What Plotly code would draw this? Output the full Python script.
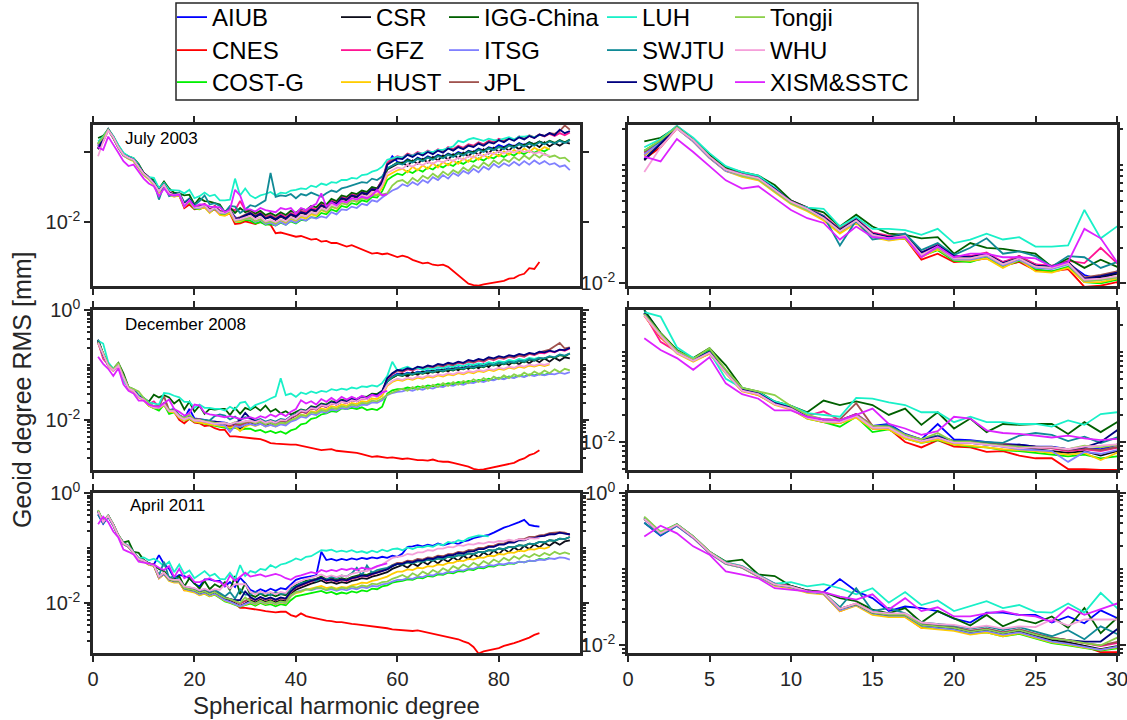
import plotly.graph_objects as go

W, H = 1127, 720

CENTERS = ["AIUB", "CNES", "COST-G", "CSR", "GFZ", "HUST", "IGG-China", "ITSG",
           "JPL", "LUH", "SWJTU", "SWPU", "Tongji", "WHU", "XISM&SSTC"]
COLORS = ["#0000FF", "#FF0000", "#00F000", "#0D0D1A", "#FF1493", "#FFCC00", "#006000", "#8080FF",
          "#A0524E", "#19F0C8", "#108A96", "#00007F", "#8CD04A", "#F5A0DA", "#DD22FF"]
EPOCHS = ["July 2003", "December 2008", "April 2011"]

# Values read on the log axis: log10 of geoid degree RMS [mm], degree 1, 2, 3, ...
# ---------------- July 2003 ----------------
AIUB_2003 = [-0.92,-0.81,-0.68,-0.78,-0.92,-1.03,-1.08,-1.10,-1.20,-1.30,
 -1.36,-1.44,-1.56,-1.46,-1.58,-1.61,-1.60,-1.76,-1.69,-1.78,
 -1.77,-1.76,-1.82,-1.79,-1.84,-1.87,-1.83,-1.93,-1.97,-1.90,
 -1.86,-1.90,-1.87,-1.93,-1.90,-1.95,-1.89,-1.94,-1.88,-1.91,
 -1.85,-1.86,-1.80,-1.83,-1.75,-1.77,-1.70,-1.73,-1.64,-1.67,
 -1.61,-1.62,-1.56,-1.59,-1.51,-1.53,-1.40,-1.18,-1.06,-1.14,
 -1.16,-1.10,-1.14,-1.08,-1.11,-1.06,-1.09,-1.04,-1.07,-1.02,
 -1.05,-1.00,-1.03,-0.98,-1.00,-0.95,-0.98,-0.93,-0.95,-0.90,
 -0.93,-0.89,-0.92,-0.87,-0.90,-0.86,-0.89,-0.85,-0.88]
CNES_2003 = [-0.95,-0.85,-0.69,-0.80,-0.94,-1.05,-1.09,-1.12,-1.22,-1.32,
 -1.38,-1.45,-1.56,-1.48,-1.60,-1.63,-1.62,-1.80,-1.75,-1.82,
 -1.81,-1.79,-1.85,-1.82,-1.89,-1.90,-1.88,-2.03,-2.02,-1.99,
 -2.01,-2.03,-2.00,-2.02,-2.04,-2.16,-2.15,-2.17,-2.19,-2.21,
 -2.20,-2.23,-2.25,-2.24,-2.28,-2.27,-2.30,-2.30,-2.33,-2.35,
 -2.33,-2.36,-2.40,-2.42,-2.45,-2.44,-2.46,-2.45,-2.48,-2.50,
 -2.48,-2.50,-2.54,-2.57,-2.59,-2.58,-2.61,-2.62,-2.61,-2.64,
 -2.70,-2.76,-2.82,-2.88,-2.90,-2.91,-2.89,-2.88,-2.87,-2.85,
 -2.84,-2.81,-2.80,-2.76,-2.74,-2.66,-2.67,-2.57]
COSTG_2003 = [-0.88,-0.79,-0.68,-0.79,-0.93,-1.04,-1.09,-1.12,-1.22,-1.32,
 -1.38,-1.46,-1.57,-1.48,-1.60,-1.63,-1.62,-1.77,-1.72,-1.81,
 -1.82,-1.78,-1.86,-1.81,-1.88,-1.90,-1.86,-1.99,-2.00,-1.97,
 -1.98,-2.02,-2.00,-2.04,-2.03,-2.05,-2.01,-2.04,-1.99,-2.02,
 -1.97,-1.98,-1.93,-1.94,-1.87,-1.89,-1.82,-1.85,-1.77,-1.79,
 -1.73,-1.75,-1.69,-1.71,-1.64,-1.65,-1.56,-1.40,-1.35,-1.31,
 -1.33,-1.27,-1.30,-1.25,-1.28,-1.22,-1.25,-1.19,-1.22,-1.17,
 -1.20,-1.14,-1.17,-1.12,-1.14,-1.09,-1.12,-1.07,-1.09,-1.04,
 -1.07,-1.02,-1.05,-1.00,-1.03,-0.98,-1.01,-0.97,-0.99,-0.95]
CSR_2003 = [-0.96,-0.82,-0.68,-0.79,-0.93,-1.04,-1.08,-1.11,-1.21,-1.31,
 -1.37,-1.44,-1.55,-1.47,-1.58,-1.61,-1.60,-1.76,-1.68,-1.79,
 -1.79,-1.75,-1.84,-1.77,-1.85,-1.86,-1.83,-1.96,-1.95,-1.92,
 -1.88,-1.93,-1.89,-1.95,-1.93,-1.97,-1.92,-1.96,-1.90,-1.93,
 -1.87,-1.89,-1.83,-1.85,-1.77,-1.80,-1.72,-1.75,-1.67,-1.69,
 -1.63,-1.65,-1.59,-1.61,-1.54,-1.55,-1.44,-1.25,-1.21,-1.17,
 -1.15,-1.20,-1.12,-1.17,-1.10,-1.15,-1.07,-1.12,-1.05,-1.11,
 -1.03,-1.09,-1.01,-1.06,-0.99,-1.04,-0.96,-1.02,-0.94,-1.00,
 -0.93,-0.98,-0.91,-0.96,-0.89,-0.94,-0.88,-0.93,-0.86,-0.92,
 -0.87,-0.91,-0.86,-0.88]
GFZ_2003 = [-0.90,-0.80,-0.67,-0.78,-0.92,-1.03,-1.07,-1.10,-1.20,-1.30,
 -1.36,-1.43,-1.54,-1.45,-1.57,-1.60,-1.58,-1.74,-1.67,-1.77,
 -1.77,-1.74,-1.82,-1.77,-1.84,-1.85,-1.81,-1.83,-1.70,-1.83,
 -1.86,-1.90,-1.86,-1.92,-1.90,-1.94,-1.89,-1.93,-1.87,-1.90,
 -1.84,-1.86,-1.80,-1.82,-1.74,-1.77,-1.69,-1.72,-1.64,-1.66,
 -1.60,-1.62,-1.56,-1.58,-1.51,-1.52,-1.40,-1.15,-1.10,-1.06,
 -1.08,-1.02,-1.05,-1.00,-1.03,-0.98,-1.01,-0.96,-0.99,-0.93,
 -0.96,-0.91,-0.94,-0.89,-0.91,-0.86,-0.89,-0.84,-0.86,-0.81,
 -0.84,-0.80,-0.83,-0.78,-0.81,-0.77,-0.80,-0.75,-0.78,-0.74,
 -0.77,-0.73,-0.76,-0.72]
HUST_2003 = [-0.92,-0.81,-0.69,-0.80,-0.94,-1.05,-1.10,-1.13,-1.23,-1.33,
 -1.39,-1.47,-1.58,-1.49,-1.61,-1.64,-1.62,-1.78,-1.71,-1.80,
 -1.81,-1.79,-1.87,-1.80,-1.90,-1.91,-1.87,-1.99,-1.99,-1.96,
 -1.95,-1.99,-1.96,-2.02,-2.00,-2.03,-1.99,-2.02,-1.96,-1.99,
 -1.93,-1.95,-1.89,-1.91,-1.83,-1.86,-1.78,-1.81,-1.73,-1.75,
 -1.69,-1.71,-1.65,-1.67,-1.60,-1.61,-1.51,-1.34,-1.30,-1.26,
 -1.24,-1.29,-1.21,-1.26,-1.19,-1.24,-1.16,-1.22,-1.14,-1.19,
 -1.12,-1.17,-1.09,-1.14,-1.06,-1.11,-1.04,-1.09,-1.01,-1.06,
 -0.99,-1.04,-0.97,-1.02,-0.95,-1.00,-0.94,-0.98,-0.93,-0.96]
IGG_2003 = [-0.80,-0.77,-0.68,-0.78,-0.91,-1.02,-1.06,-1.09,-1.17,-1.30,
 -1.36,-1.40,-1.52,-1.42,-1.52,-1.58,-1.59,-1.62,-1.61,-1.75,
 -1.66,-1.70,-1.71,-1.73,-1.75,-1.86,-1.79,-1.87,-1.80,-1.86,
 -1.83,-1.88,-1.84,-1.90,-1.87,-1.91,-1.86,-1.90,-1.84,-1.87,
 -1.81,-1.83,-1.77,-1.79,-1.72,-1.75,-1.67,-1.70,-1.62,-1.64,
 -1.58,-1.60,-1.55,-1.57,-1.50,-1.52,-1.42,-1.24,-1.20,-1.15,
 -1.17,-1.11,-1.14,-1.09,-1.12,-1.07,-1.10,-1.05,-1.08,-1.03,
 -1.06,-1.01,-1.04,-0.99,-1.01,-0.96,-0.99,-0.94,-0.97,-0.92,
 -0.95,-0.90,-0.93,-0.88,-0.91,-0.86,-0.89,-0.85,-0.88,-0.84,
 -0.87,-0.83,-0.86,-0.82]
ITSG_2003 = [-0.91,-0.81,-0.69,-0.80,-0.94,-1.05,-1.09,-1.12,-1.22,-1.32,
 -1.38,-1.45,-1.56,-1.48,-1.60,-1.63,-1.61,-1.77,-1.70,-1.80,
 -1.80,-1.77,-1.85,-1.80,-1.87,-1.88,-1.84,-1.98,-1.97,-1.95,
 -1.95,-2.00,-1.97,-2.03,-2.01,-2.05,-2.00,-2.04,-1.98,-2.01,
 -1.96,-1.98,-1.93,-1.95,-1.92,-1.94,-1.86,-1.89,-1.82,-1.83,
 -1.78,-1.80,-1.74,-1.76,-1.69,-1.71,-1.65,-1.60,-1.55,-1.52,
 -1.46,-1.49,-1.43,-1.47,-1.40,-1.44,-1.36,-1.40,-1.33,-1.38,
 -1.30,-1.34,-1.27,-1.31,-1.24,-1.29,-1.21,-1.25,-1.17,-1.22,
 -1.16,-1.20,-1.14,-1.19,-1.13,-1.18,-1.12,-1.17,-1.13,-1.18,
 -1.16,-1.21,-1.19,-1.26]
JPL_2003 = [-0.89,-0.79,-0.67,-0.79,-0.93,-1.04,-1.08,-1.11,-1.21,-1.31,
 -1.37,-1.44,-1.54,-1.46,-1.58,-1.61,-1.59,-1.75,-1.69,-1.78,
 -1.78,-1.76,-1.83,-1.78,-1.85,-1.86,-1.82,-1.95,-1.93,-1.90,
 -1.86,-1.91,-1.88,-1.94,-1.91,-1.95,-1.91,-1.95,-1.89,-1.92,
 -1.85,-1.88,-1.82,-1.84,-1.76,-1.79,-1.71,-1.74,-1.66,-1.68,
 -1.62,-1.64,-1.58,-1.60,-1.53,-1.54,-1.43,-1.17,-1.12,-1.07,
 -1.09,-1.03,-1.06,-1.01,-1.04,-0.99,-1.02,-0.97,-1.00,-0.94,
 -0.97,-0.92,-0.95,-0.90,-0.92,-0.87,-0.90,-0.85,-0.87,-0.82,
 -0.85,-0.80,-0.83,-0.78,-0.81,-0.76,-0.79,-0.75,-0.77,-0.73,
 -0.74,-0.70,-0.62,-0.68]
LUH_2003 = [-0.85,-0.78,-0.67,-0.77,-0.90,-1.01,-1.06,-1.09,-1.19,-1.32,
 -1.36,-1.37,-1.52,-1.44,-1.54,-1.54,-1.55,-1.59,-1.54,-1.66,
 -1.63,-1.58,-1.63,-1.61,-1.69,-1.69,-1.68,-1.38,-1.62,-1.52,
 -1.62,-1.66,-1.62,-1.60,-1.57,-1.62,-1.58,-1.59,-1.55,-1.54,
 -1.52,-1.53,-1.48,-1.50,-1.45,-1.47,-1.43,-1.44,-1.40,-1.40,
 -1.37,-1.38,-1.33,-1.32,-1.28,-1.26,-1.21,-1.11,-1.09,-1.07,
 -1.08,-1.04,-1.05,-1.02,-1.02,-0.99,-1.00,-0.97,-0.97,-0.95,
 -0.92,-0.84,-0.86,-0.82,-0.80,-0.82,-0.84,-0.81,-0.83,-0.83,
 -0.81,-0.79,-0.82,-0.78,-0.78,-0.77,-0.79,-0.76]
SWJTU_2003 = [-0.88,-0.80,-0.68,-0.79,-0.93,-1.04,-1.08,-1.11,-1.21,-1.31,
 -1.37,-1.43,-1.68,-1.47,-1.63,-1.61,-1.58,-1.72,-1.66,-1.76,
 -1.70,-1.62,-1.75,-1.73,-1.77,-1.86,-1.77,-1.78,-1.87,-1.82,
 -1.76,-1.78,-1.73,-1.69,-1.30,-1.64,-1.62,-1.63,-1.60,-1.66,
 -1.60,-1.62,-1.58,-1.61,-1.64,-1.59,-1.55,-1.57,-1.52,-1.50,
 -1.48,-1.46,-1.43,-1.44,-1.38,-1.40,-1.35,-1.23,-1.20,-1.16,
 -1.18,-1.13,-1.15,-1.10,-1.13,-1.08,-1.11,-1.06,-1.09,-1.04,
 -1.07,-1.02,-1.05,-1.00,-1.02,-0.97,-1.00,-0.95,-0.97,-0.93,
 -0.96,-0.91,-0.94,-0.89,-0.92,-0.88,-0.91,-0.86,-0.89,-0.85,
 -0.88,-0.84,-0.87,-0.83]
SWPU_2003 = [-0.95,-0.82,-0.68,-0.79,-0.93,-1.04,-1.08,-1.11,-1.20,-1.31,
 -1.37,-1.44,-1.55,-1.46,-1.58,-1.61,-1.60,-1.74,-1.68,-1.77,
 -1.78,-1.75,-1.83,-1.79,-1.85,-1.86,-1.82,-1.96,-1.94,-1.91,
 -1.87,-1.92,-1.88,-1.95,-1.92,-1.96,-1.91,-1.95,-1.89,-1.92,
 -1.86,-1.88,-1.82,-1.84,-1.76,-1.79,-1.71,-1.74,-1.66,-1.68,
 -1.62,-1.64,-1.58,-1.60,-1.53,-1.54,-1.43,-1.18,-1.13,-1.09,
 -1.10,-1.04,-1.07,-1.02,-1.05,-1.00,-1.03,-0.98,-1.01,-0.95,
 -0.98,-0.93,-0.96,-0.91,-0.93,-0.88,-0.91,-0.86,-0.88,-0.83,
 -0.86,-0.81,-0.84,-0.79,-0.82,-0.77,-0.80,-0.75,-0.77,-0.73,
 -0.76,-0.68,-0.73,-0.70]
TONGJI_2003 = [-0.88,-0.79,-0.68,-0.79,-0.93,-1.04,-1.09,-1.12,-1.22,-1.32,
 -1.38,-1.45,-1.56,-1.47,-1.59,-1.62,-1.60,-1.76,-1.70,-1.79,
 -1.79,-1.76,-1.84,-1.79,-1.86,-1.87,-1.83,-1.98,-1.97,-1.95,
 -1.94,-1.99,-1.96,-2.01,-1.99,-2.02,-1.97,-2.00,-1.94,-1.97,
 -1.91,-1.93,-1.87,-1.89,-1.82,-1.85,-1.78,-1.80,-1.73,-1.75,
 -1.69,-1.71,-1.66,-1.68,-1.62,-1.62,-1.60,-1.59,-1.48,-1.42,
 -1.40,-1.45,-1.37,-1.42,-1.34,-1.38,-1.31,-1.36,-1.28,-1.33,
 -1.26,-1.30,-1.22,-1.27,-1.19,-1.23,-1.15,-1.20,-1.12,-1.17,
 -1.10,-1.14,-1.07,-1.12,-1.05,-1.10,-1.03,-1.08,-1.02,-1.07,
 -1.05,-1.09,-1.08,-1.14]
WHU_2003 = [-1.06,-0.85,-0.69,-0.79,-0.93,-1.04,-1.08,-1.11,-1.21,-1.31,
 -1.37,-1.45,-1.56,-1.47,-1.59,-1.62,-1.60,-1.76,-1.69,-1.79,
 -1.79,-1.76,-1.84,-1.79,-1.86,-1.87,-1.83,-1.97,-1.96,-1.94,
 -1.91,-1.96,-1.93,-1.99,-1.97,-2.00,-1.96,-1.99,-1.93,-1.96,
 -1.90,-1.92,-1.86,-1.88,-1.80,-1.83,-1.75,-1.78,-1.70,-1.72,
 -1.66,-1.68,-1.62,-1.64,-1.57,-1.58,-1.48,-1.30,-1.26,-1.22,
 -1.24,-1.18,-1.21,-1.16,-1.19,-1.14,-1.17,-1.12,-1.15,-1.10,
 -1.13,-1.08,-1.11,-1.06,-1.08,-1.03,-1.06,-1.01,-1.03,-0.99,
 -1.02,-0.98,-1.01,-0.97,-1.00,-0.98,-1.02,-1.00,-1.04,-1.05]
XISM_2003 = [-0.93,-0.97,-0.78,-0.89,-1.01,-1.13,-1.20,-1.18,-1.28,-1.38,
 -1.45,-1.49,-1.63,-1.52,-1.61,-1.62,-1.61,-1.78,-1.69,-1.78,
 -1.75,-1.75,-1.78,-1.78,-1.79,-1.86,-1.82,-1.54,-1.62,-1.82,
 -1.82,-1.85,-1.80,-1.83,-1.84,-1.86,-1.80,-1.82,-1.80,-1.88,
 -1.80,-1.83,-1.78,-1.74,-1.59,-1.78,-1.72,-1.76,-1.70,-1.72,
 -1.66,-1.68,-1.64,-1.66,-1.62,-1.54,-1.62,-1.60]

# ---------------- December 2008 ----------------
AIUB_2008 = [-0.54,-0.80,-0.99,-1.08,-0.99,-1.21,-1.41,-1.45,-1.56,-1.60,
 -1.71,-1.75,-1.76,-1.69,-1.82,-1.80,-1.91,-1.97,-1.80,-1.97,
 -1.98,-2.00,-2.02,-2.03,-2.05,-2.05,-2.08,-2.07,-2.08,-2.03,
 -2.01,-2.04,-2.00,-2.05,-2.01,-2.05,-2.00,-2.01,-1.94,-1.90,
 -1.83,-1.85,-1.77,-1.79,-1.72,-1.74,-1.68,-1.70,-1.65,-1.67,
 -1.62,-1.64,-1.59,-1.60,-1.54,-1.55,-1.49,-1.29,-1.21,-1.16,
 -1.18,-1.14,-1.16,-1.12,-1.14,-1.10,-1.12,-1.08,-1.10,-1.06,
 -1.08,-1.04,-1.06,-1.02,-1.04,-1.00,-1.02,-0.98,-1.00,-0.96,
 -0.98,-0.94,-0.96,-0.92,-0.94,-0.90,-0.92,-0.89]
CNES_2008 = [-0.60,-0.84,-1.01,-1.10,-1.02,-1.23,-1.43,-1.48,-1.58,-1.63,
 -1.73,-1.78,-1.79,-1.72,-1.85,-1.85,-2.00,-2.06,-1.98,-2.05,
 -2.06,-2.11,-2.10,-2.15,-2.18,-2.18,-2.30,-2.30,-2.31,-2.31,
 -2.32,-2.33,-2.35,-2.38,-2.42,-2.43,-2.44,-2.44,-2.45,-2.45,
 -2.47,-2.48,-2.50,-2.52,-2.55,-2.54,-2.53,-2.56,-2.57,-2.58,
 -2.58,-2.60,-2.62,-2.64,-2.67,-2.66,-2.68,-2.69,-2.68,-2.70,
 -2.71,-2.70,-2.72,-2.73,-2.73,-2.74,-2.72,-2.75,-2.76,-2.76,
 -2.78,-2.80,-2.82,-2.85,-2.89,-2.91,-2.90,-2.88,-2.86,-2.85,
 -2.83,-2.80,-2.78,-2.73,-2.70,-2.64,-2.61,-2.55]
COSTG_2008 = [-0.58,-0.82,-1.00,-1.09,-0.98,-1.22,-1.42,-1.47,-1.58,-1.63,
 -1.74,-1.78,-1.83,-1.72,-1.89,-1.86,-1.96,-2.01,-1.98,-2.03,
 -2.05,-2.06,-2.09,-2.10,-2.12,-2.14,-2.16,-2.14,-2.18,-2.16,
 -2.16,-2.20,-2.18,-2.23,-2.20,-2.24,-2.21,-2.25,-2.19,-2.16,
 -2.08,-2.06,-1.98,-1.96,-1.90,-1.88,-1.84,-1.85,-1.79,-1.80,
 -1.78,-1.80,-1.77,-1.82,-1.80,-1.82,-1.76,-1.52,-1.46,-1.44,
 -1.44,-1.41,-1.43,-1.39,-1.41,-1.37,-1.39,-1.35,-1.37,-1.33,
 -1.35,-1.31,-1.33,-1.29,-1.31,-1.27,-1.29,-1.25,-1.27,-1.23,
 -1.25,-1.21,-1.23,-1.19,-1.21,-1.17,-1.19,-1.16,-1.18,-1.15]
CSR_2008 = [-0.57,-0.80,-0.99,-1.09,-1.00,-1.22,-1.42,-1.46,-1.57,-1.62,
 -1.72,-1.76,-1.77,-1.71,-1.83,-1.84,-1.93,-1.99,-1.95,-2.01,
 -2.01,-2.03,-2.05,-2.07,-2.08,-2.10,-2.12,-2.10,-2.15,-2.10,
 -2.06,-2.09,-2.05,-2.10,-2.06,-2.09,-2.04,-2.05,-1.97,-1.92,
 -1.85,-1.87,-1.79,-1.81,-1.74,-1.76,-1.70,-1.72,-1.67,-1.69,
 -1.64,-1.66,-1.61,-1.62,-1.56,-1.57,-1.51,-1.30,-1.23,-1.18,
 -1.16,-1.21,-1.13,-1.18,-1.11,-1.16,-1.09,-1.14,-1.06,-1.12,
 -1.04,-1.10,-1.02,-1.07,-1.00,-1.06,-0.98,-1.04,-0.96,-1.02,
 -0.95,-1.00,-0.93,-0.99,-0.91,-0.97,-0.90,-0.95,-0.88,-0.94,
 -0.87,-0.92,-0.86,-0.88]
GFZ_2008 = [-0.58,-0.89,-1.00,-1.08,-1.01,-1.21,-1.41,-1.45,-1.56,-1.61,
 -1.71,-1.66,-1.76,-1.69,-1.82,-1.82,-1.92,-1.97,-1.93,-1.99,
 -1.99,-2.01,-2.03,-2.05,-2.06,-2.07,-2.10,-2.08,-2.10,-2.06,
 -2.03,-2.06,-2.02,-2.07,-2.04,-2.07,-2.02,-2.03,-1.96,-1.92,
 -1.85,-1.87,-1.79,-1.81,-1.74,-1.76,-1.70,-1.72,-1.67,-1.69,
 -1.64,-1.66,-1.61,-1.62,-1.56,-1.57,-1.50,-1.26,-1.17,-1.11,
 -1.13,-1.08,-1.10,-1.06,-1.08,-1.03,-1.05,-1.01,-1.03,-0.99,
 -1.01,-0.96,-0.98,-0.94,-0.96,-0.92,-0.94,-0.89,-0.91,-0.87,
 -0.89,-0.85,-0.87,-0.83,-0.85,-0.80,-0.82,-0.78,-0.79,-0.75,
 -0.77,-0.72,-0.74,-0.70]
HUST_2008 = [-0.60,-0.83,-1.02,-1.11,-1.02,-1.24,-1.44,-1.48,-1.59,-1.64,
 -1.74,-1.78,-1.79,-1.73,-1.85,-1.86,-1.96,-2.01,-1.97,-2.03,
 -2.04,-2.06,-2.08,-2.09,-2.10,-2.12,-2.14,-2.12,-2.20,-2.12,
 -2.08,-2.11,-2.07,-2.12,-2.09,-2.12,-2.07,-2.08,-2.01,-1.97,
 -1.90,-1.92,-1.84,-1.86,-1.79,-1.81,-1.75,-1.77,-1.72,-1.74,
 -1.69,-1.71,-1.66,-1.67,-1.61,-1.62,-1.56,-1.38,-1.31,-1.27,
 -1.29,-1.25,-1.27,-1.23,-1.25,-1.21,-1.23,-1.19,-1.21,-1.17,
 -1.19,-1.15,-1.17,-1.13,-1.15,-1.11,-1.13,-1.09,-1.11,-1.07,
 -1.09,-1.05,-1.07,-1.03,-1.05,-1.01,-1.03,-1.00,-1.02,-0.99]
IGG_2008 = [-0.54,-0.79,-0.98,-1.07,-0.96,-1.15,-1.40,-1.44,-1.55,-1.60,
 -1.67,-1.54,-1.59,-1.55,-1.59,-1.70,-1.63,-1.81,-1.67,-1.85,
 -1.74,-1.89,-1.80,-1.81,-1.80,-1.80,-1.91,-1.78,-1.89,-1.78,
 -1.82,-1.76,-1.83,-1.74,-1.85,-1.80,-1.88,-1.84,-1.90,-1.86,
 -1.81,-1.83,-1.75,-1.77,-1.70,-1.72,-1.66,-1.68,-1.63,-1.65,
 -1.60,-1.62,-1.57,-1.58,-1.52,-1.53,-1.47,-1.30,-1.23,-1.18,
 -1.20,-1.16,-1.18,-1.14,-1.16,-1.12,-1.14,-1.10,-1.12,-1.08,
 -1.10,-1.06,-1.08,-1.04,-1.06,-1.02,-1.04,-0.99,-1.01,-0.97,
 -0.99,-0.95,-0.97,-0.93,-0.95,-0.90,-0.92,-0.88,-0.89,-0.85,
 -0.87,-0.82,-0.84,-0.79]
ITSG_2008 = [-0.59,-0.82,-1.01,-1.10,-1.01,-1.23,-1.43,-1.47,-1.58,-1.63,
 -1.73,-1.77,-1.78,-1.71,-1.84,-1.84,-1.94,-1.99,-1.95,-2.01,
 -2.01,-2.03,-2.05,-2.08,-2.09,-2.10,-2.22,-2.11,-2.13,-2.09,
 -2.07,-2.10,-2.07,-2.12,-2.09,-2.12,-2.08,-2.10,-2.03,-2.00,
 -1.94,-1.96,-1.89,-1.91,-1.85,-1.87,-1.81,-1.83,-1.78,-1.80,
 -1.75,-1.77,-1.72,-1.73,-1.68,-1.69,-1.64,-1.55,-1.51,-1.49,
 -1.48,-1.45,-1.47,-1.43,-1.45,-1.41,-1.43,-1.39,-1.40,-1.36,
 -1.38,-1.34,-1.36,-1.32,-1.33,-1.29,-1.31,-1.27,-1.28,-1.24,
 -1.26,-1.22,-1.24,-1.20,-1.22,-1.18,-1.20,-1.17,-1.19,-1.16,
 -1.17,-1.14,-1.16,-1.13]
JPL_2008 = [-0.58,-0.81,-1.00,-1.09,-1.00,-1.22,-1.42,-1.46,-1.57,-1.62,
 -1.72,-1.75,-1.75,-1.57,-1.82,-1.82,-1.92,-1.97,-1.93,-1.99,
 -1.99,-2.01,-2.02,-2.04,-2.05,-2.06,-2.09,-2.07,-2.09,-2.05,
 -2.02,-2.05,-2.01,-2.06,-2.03,-2.06,-2.01,-2.02,-1.95,-1.91,
 -1.84,-1.86,-1.78,-1.80,-1.73,-1.75,-1.69,-1.71,-1.66,-1.68,
 -1.63,-1.65,-1.60,-1.61,-1.55,-1.56,-1.49,-1.24,-1.16,-1.10,
 -1.12,-1.07,-1.09,-1.05,-1.07,-1.02,-1.04,-1.00,-1.02,-0.98,
 -1.00,-0.95,-0.97,-0.93,-0.95,-0.91,-0.93,-0.88,-0.90,-0.86,
 -0.88,-0.84,-0.86,-0.82,-0.84,-0.79,-0.81,-0.77,-0.74,-0.72,
 -0.66,-0.60,-0.70,-0.68]
LUH_2008 = [-0.56,-0.61,-0.95,-1.07,-1.00,-1.30,-1.40,-1.45,-1.55,-1.60,
 -1.68,-1.70,-1.72,-1.51,-1.52,-1.56,-1.59,-1.67,-1.67,-1.78,
 -1.72,-1.78,-1.78,-1.80,-1.80,-1.83,-1.76,-1.81,-1.69,-1.67,
 -1.80,-1.73,-1.70,-1.66,-1.61,-1.57,-1.24,-1.55,-1.52,-1.58,
 -1.50,-1.53,-1.48,-1.51,-1.47,-1.49,-1.44,-1.46,-1.43,-1.45,
 -1.41,-1.43,-1.39,-1.40,-1.37,-1.39,-1.33,-1.20,-0.94,-1.10,
 -1.06,-1.03,-1.08,-1.05,-1.09,-1.06,-1.08,-1.04,-1.06,-1.02,
 -1.04,-1.00,-1.02,-0.98,-1.00,-0.97,-0.99,-0.95,-0.97,-0.93,
 -0.95,-0.91,-0.93,-0.89,-0.91,-0.87,-0.89,-0.86]
SWJTU_2008 = [-0.57,-0.81,-1.00,-1.09,-1.00,-1.22,-1.42,-1.46,-1.57,-1.62,
 -1.72,-1.76,-1.77,-1.70,-1.83,-1.81,-1.92,-1.97,-1.93,-1.99,
 -1.99,-2.00,-2.01,-1.93,-1.90,-1.92,-1.99,-1.94,-2.01,-1.95,
 -1.97,-2.01,-1.98,-2.03,-2.00,-2.03,-1.98,-2.00,-1.93,-1.89,
 -1.82,-1.84,-1.77,-1.79,-1.72,-1.74,-1.68,-1.70,-1.65,-1.67,
 -1.62,-1.64,-1.59,-1.60,-1.54,-1.55,-1.49,-1.30,-1.22,-1.17,
 -1.19,-1.15,-1.17,-1.13,-1.15,-1.11,-1.13,-1.09,-1.11,-1.07,
 -1.09,-1.05,-1.07,-1.03,-1.05,-1.01,-1.03,-0.98,-1.00,-0.96,
 -0.98,-0.94,-0.96,-0.92,-0.94,-0.89,-0.91,-0.87,-0.88,-0.84,
 -0.86,-0.81,-0.83,-0.79]
SWPU_2008 = [-0.57,-0.81,-1.00,-1.09,-1.00,-1.22,-1.42,-1.46,-1.57,-1.62,
 -1.72,-1.76,-1.77,-1.70,-1.83,-1.83,-1.93,-1.98,-1.94,-2.00,
 -2.00,-2.02,-2.04,-2.03,-2.05,-2.06,-2.08,-2.06,-2.00,-1.87,
 -1.97,-2.03,-2.00,-2.05,-2.02,-2.05,-2.00,-2.01,-1.94,-1.90,
 -1.83,-1.85,-1.77,-1.79,-1.72,-1.74,-1.68,-1.70,-1.65,-1.67,
 -1.62,-1.64,-1.59,-1.60,-1.54,-1.55,-1.48,-1.24,-1.15,-1.09,
 -1.10,-1.06,-1.08,-1.03,-1.05,-1.01,-1.03,-0.98,-1.00,-0.96,
 -0.98,-0.94,-0.96,-0.91,-0.93,-0.89,-0.91,-0.86,-0.88,-0.84,
 -0.86,-0.82,-0.84,-0.80,-0.82,-0.78,-0.80,-0.76,-0.77,-0.74,
 -0.76,-0.72,-0.73,-0.69]
TONGJI_2008 = [-0.58,-0.80,-0.99,-1.08,-0.96,-1.20,-1.40,-1.44,-1.48,-1.60,
 -1.70,-1.75,-1.76,-1.70,-1.82,-1.83,-1.92,-1.97,-1.90,-2.00,
 -2.00,-2.02,-2.04,-2.05,-2.06,-2.06,-2.08,-2.04,-2.06,-2.03,
 -2.02,-2.06,-2.03,-2.08,-2.05,-2.09,-2.05,-2.06,-2.00,-1.97,
 -1.91,-1.93,-1.86,-1.88,-1.82,-1.84,-1.78,-1.80,-1.75,-1.77,
 -1.72,-1.74,-1.69,-1.70,-1.65,-1.66,-1.61,-1.54,-1.50,-1.47,
 -1.43,-1.47,-1.40,-1.45,-1.38,-1.43,-1.36,-1.40,-1.33,-1.38,
 -1.31,-1.36,-1.29,-1.33,-1.26,-1.31,-1.24,-1.29,-1.21,-1.26,
 -1.19,-1.24,-1.17,-1.21,-1.14,-1.19,-1.12,-1.17,-1.10,-1.15,
 -1.08,-1.13,-1.07,-1.10]
WHU_2008 = [-0.60,-0.82,-1.01,-1.10,-1.01,-1.23,-1.43,-1.47,-1.58,-1.63,
 -1.73,-1.77,-1.78,-1.71,-1.84,-1.84,-1.94,-1.99,-1.95,-2.01,
 -2.01,-2.03,-2.05,-2.07,-2.06,-2.06,-2.08,-2.05,-2.04,-2.03,
 -2.01,-2.04,-2.00,-2.05,-2.02,-2.05,-2.00,-2.01,-1.94,-1.90,
 -1.83,-1.85,-1.78,-1.80,-1.73,-1.75,-1.70,-1.72,-1.67,-1.69,
 -1.64,-1.66,-1.61,-1.62,-1.56,-1.57,-1.51,-1.36,-1.29,-1.25,
 -1.27,-1.23,-1.25,-1.21,-1.23,-1.19,-1.21,-1.17,-1.19,-1.15,
 -1.17,-1.13,-1.15,-1.11,-1.13,-1.09,-1.11,-1.07,-1.09,-1.05,
 -1.07,-1.03,-1.05,-1.01,-1.03,-0.99,-1.01,-0.98,-1.00,-0.97]
XISM_2008 = [-0.85,-0.98,-1.07,-1.20,-1.06,-1.35,-1.47,-1.52,-1.65,-1.65,
 -1.72,-1.75,-1.76,-1.70,-1.63,-1.80,-1.85,-1.92,-1.88,-1.72,
 -1.74,-1.87,-1.90,-1.91,-1.93,-1.95,-1.93,-1.96,-1.98,-1.97,
 -1.95,-1.98,-1.93,-1.96,-1.90,-1.94,-1.88,-1.93,-1.85,-1.80,
 -1.64,-1.70,-1.66,-1.72,-1.62,-1.67,-1.60,-1.66,-1.58,-1.63,
 -1.58,-1.62,-1.56,-1.60,-1.54,-1.57,-1.50,-1.47]

# ---------------- April 2011 ----------------
AIUB_2011 = [-0.39,-0.56,-0.43,-0.59,-0.78,-0.92,-0.97,-1.08,-1.19,-1.22,
 -1.28,-1.30,-1.13,-1.29,-1.38,-1.55,-1.49,-1.51,-1.55,-1.65,
 -1.70,-1.57,-1.57,-1.60,-1.60,-1.70,-1.62,-1.71,-1.54,-1.64,
 -1.76,-1.80,-1.75,-1.79,-1.74,-1.78,-1.73,-1.75,-1.66,-1.58,
 -1.55,-1.53,-1.52,-1.50,-1.07,-1.22,-1.20,-1.23,-1.20,-1.22,
 -1.19,-1.21,-1.18,-1.20,-1.17,-1.19,-1.16,-1.18,-1.14,-1.16,
 -1.10,-0.98,-0.97,-0.95,-0.97,-0.94,-0.96,-0.92,-0.95,-0.92,
 -0.90,-0.93,-0.88,-0.86,-0.82,-0.80,-0.78,-0.76,-0.72,-0.67,
 -0.63,-0.60,-0.57,-0.53,-0.49,-0.58,-0.60,-0.61]
CNES_2011 = [-0.34,-0.53,-0.42,-0.58,-0.77,-0.92,-0.98,-1.09,-1.21,-1.24,
 -1.30,-1.32,-1.55,-1.47,-1.58,-1.62,-1.62,-1.77,-1.76,-1.78,
 -1.83,-1.80,-1.85,-1.82,-1.87,-1.96,-1.97,-2.01,-2.09,-2.09,
 -2.10,-2.12,-2.13,-2.15,-2.16,-2.17,-2.16,-2.16,-2.22,-2.25,
 -2.19,-2.24,-2.26,-2.28,-2.31,-2.32,-2.33,-2.35,-2.35,-2.37,
 -2.38,-2.39,-2.40,-2.41,-2.43,-2.44,-2.45,-2.46,-2.48,-2.49,
 -2.49,-2.50,-2.51,-2.50,-2.52,-2.54,-2.56,-2.58,-2.59,-2.61,
 -2.64,-2.66,-2.70,-2.73,-2.80,-2.92,-2.88,-2.86,-2.84,-2.82,
 -2.78,-2.76,-2.73,-2.70,-2.67,-2.63,-2.58,-2.55]
COSTG_2011 = [-0.33,-0.53,-0.42,-0.58,-0.78,-0.93,-0.98,-1.09,-1.21,-1.24,
 -1.30,-1.32,-1.54,-1.47,-1.59,-1.62,-1.62,-1.75,-1.78,-1.80,
 -1.85,-1.83,-1.88,-1.85,-1.91,-1.97,-2.00,-2.03,-2.07,-2.04,
 -2.01,-2.05,-2.00,-2.04,-2.02,-2.06,-2.02,-2.04,-1.95,-1.88,
 -1.86,-1.83,-1.82,-1.80,-1.78,-1.82,-1.80,-1.84,-1.81,-1.83,
 -1.79,-1.81,-1.77,-1.79,-1.74,-1.75,-1.70,-1.68,-1.63,-1.61,
 -1.60,-1.57,-1.58,-1.54,-1.55,-1.51,-1.52,-1.48,-1.49,-1.45,
 -1.46,-1.42,-1.43,-1.39,-1.40,-1.36,-1.37,-1.33,-1.34,-1.30,
 -1.31,-1.28,-1.29,-1.25,-1.26,-1.23,-1.24,-1.20,-1.21,-1.18]
CSR_2011 = [-0.34,-0.52,-0.42,-0.58,-0.78,-0.92,-0.97,-1.08,-1.20,-1.23,
 -1.29,-1.31,-1.53,-1.46,-1.57,-1.60,-1.60,-1.73,-1.76,-1.78,
 -1.82,-1.80,-1.85,-1.81,-1.87,-1.93,-1.96,-2.00,-2.05,-2.01,
 -1.95,-1.99,-1.94,-1.98,-1.95,-1.99,-1.95,-1.97,-1.84,-1.76,
 -1.72,-1.68,-1.65,-1.62,-1.59,-1.64,-1.62,-1.65,-1.62,-1.64,
 -1.60,-1.58,-1.55,-1.56,-1.52,-1.50,-1.47,-1.44,-1.38,-1.34,
 -1.31,-1.36,-1.28,-1.33,-1.25,-1.30,-1.22,-1.28,-1.20,-1.25,
 -1.17,-1.23,-1.14,-1.20,-1.11,-1.17,-1.08,-1.14,-1.05,-1.11,
 -1.02,-1.08,-0.99,-1.05,-0.96,-1.02,-0.93,-0.99,-0.91,-0.96,
 -0.89,-0.94,-0.88,-0.86]
GFZ_2011 = [-0.32,-0.52,-0.41,-0.57,-0.77,-0.91,-0.96,-1.08,-1.19,-1.22,
 -1.28,-1.30,-1.52,-1.45,-1.56,-1.59,-1.59,-1.72,-1.74,-1.76,
 -1.81,-1.78,-1.83,-1.79,-1.85,-1.90,-1.93,-1.97,-2.01,-1.97,
 -1.91,-1.95,-1.90,-1.94,-1.91,-1.95,-1.91,-1.93,-1.80,-1.72,
 -1.68,-1.64,-1.61,-1.58,-1.55,-1.60,-1.58,-1.61,-1.58,-1.60,
 -1.56,-1.54,-1.51,-1.52,-1.48,-1.45,-1.42,-1.38,-1.32,-1.28,
 -1.28,-1.24,-1.25,-1.21,-1.22,-1.18,-1.19,-1.15,-1.16,-1.12,
 -1.12,-1.08,-1.09,-1.05,-1.05,-1.01,-1.01,-0.97,-0.97,-0.93,
 -0.93,-0.89,-0.89,-0.85,-0.85,-0.81,-0.81,-0.78,-0.77,-0.75,
 -0.74,-0.72,-0.73,-0.76]
HUST_2011 = [-0.34,-0.53,-0.42,-0.59,-0.79,-0.93,-0.98,-1.10,-1.22,-1.25,
 -1.31,-1.33,-1.55,-1.48,-1.60,-1.63,-1.63,-1.77,-1.79,-1.81,
 -1.86,-1.83,-1.88,-1.84,-1.90,-1.96,-1.99,-2.03,-2.06,-2.03,
 -1.99,-2.03,-1.98,-2.02,-1.99,-2.03,-1.99,-2.01,-1.88,-1.82,
 -1.80,-1.76,-1.74,-1.71,-1.69,-1.73,-1.71,-1.74,-1.71,-1.72,
 -1.68,-1.66,-1.63,-1.64,-1.60,-1.58,-1.55,-1.52,-1.47,-1.43,
 -1.43,-1.39,-1.40,-1.36,-1.37,-1.33,-1.34,-1.30,-1.31,-1.27,
 -1.27,-1.23,-1.24,-1.20,-1.21,-1.17,-1.18,-1.14,-1.15,-1.11,
 -1.12,-1.08,-1.09,-1.05,-1.06,-1.02,-1.03,-1.00,-1.01,-0.98]
IGG_2011 = [-0.32,-0.52,-0.41,-0.57,-0.77,-0.90,-0.875,-1.07,-1.09,-1.22,
 -1.28,-1.30,-1.38,-1.42,-1.53,-1.58,-1.51,-1.70,-1.55,-1.64,
 -1.74,-1.60,-1.75,-1.66,-1.71,-1.62,-1.77,-1.51,-1.84,-1.64,
 -1.85,-1.89,-1.83,-1.88,-1.84,-1.88,-1.84,-1.86,-1.74,-1.68,
 -1.64,-1.60,-1.58,-1.56,-1.52,-1.57,-1.55,-1.58,-1.55,-1.57,
 -1.53,-1.51,-1.48,-1.49,-1.45,-1.43,-1.40,-1.38,-1.33,-1.29,
 -1.30,-1.26,-1.28,-1.24,-1.25,-1.21,-1.23,-1.19,-1.20,-1.16,
 -1.17,-1.13,-1.14,-1.10,-1.11,-1.07,-1.08,-1.04,-1.05,-1.01,
 -1.02,-0.98,-0.99,-0.95,-0.96,-0.92,-0.93,-0.89,-0.90,-0.86,
 -0.87,-0.83,-0.84,-0.80]
ITSG_2011 = [-0.34,-0.53,-0.43,-0.59,-0.79,-0.93,-0.98,-1.09,-1.21,-1.24,
 -1.30,-1.32,-1.54,-1.47,-1.58,-1.61,-1.61,-1.74,-1.77,-1.79,
 -1.84,-1.81,-1.86,-1.83,-1.89,-1.95,-1.98,-2.02,-2.06,-2.02,
 -1.98,-2.02,-1.97,-2.01,-1.98,-2.02,-1.98,-2.00,-1.87,-1.80,
 -1.78,-1.75,-1.77,-1.74,-1.73,-1.77,-1.75,-1.78,-1.75,-1.77,
 -1.73,-1.75,-1.71,-1.73,-1.69,-1.70,-1.66,-1.65,-1.61,-1.58,
 -1.58,-1.55,-1.56,-1.52,-1.53,-1.49,-1.50,-1.46,-1.47,-1.43,
 -1.44,-1.40,-1.41,-1.37,-1.38,-1.34,-1.35,-1.31,-1.32,-1.29,
 -1.30,-1.27,-1.28,-1.25,-1.26,-1.23,-1.24,-1.21,-1.22,-1.19,
 -1.20,-1.17,-1.18,-1.21]
JPL_2011 = [-0.33,-0.52,-0.42,-0.58,-0.78,-0.92,-0.97,-1.08,-1.20,-1.23,
 -1.29,-1.31,-1.52,-1.46,-1.57,-1.60,-1.60,-1.72,-1.74,-1.76,
 -1.81,-1.78,-1.83,-1.79,-1.85,-1.90,-1.93,-1.97,-2.00,-1.96,
 -1.91,-1.95,-1.90,-1.94,-1.91,-1.95,-1.91,-1.93,-1.80,-1.72,
 -1.67,-1.63,-1.60,-1.57,-1.54,-1.59,-1.57,-1.60,-1.57,-1.59,
 -1.55,-1.53,-1.50,-1.51,-1.47,-1.44,-1.41,-1.37,-1.31,-1.27,
 -1.27,-1.23,-1.24,-1.20,-1.21,-1.17,-1.18,-1.14,-1.15,-1.11,
 -1.11,-1.07,-1.08,-1.04,-1.04,-1.00,-1.00,-0.96,-0.96,-0.92,
 -0.92,-0.88,-0.88,-0.84,-0.84,-0.80,-0.80,-0.77,-0.76,-0.73,
 -0.72,-0.71,-0.72,-0.76]
LUH_2011 = [-0.32,-0.51,-0.41,-0.57,-0.77,-0.91,-0.96,-1.07,-1.19,-1.17,
 -1.225,-1.195,-1.25,-1.33,-1.25,-1.44,-1.30,-1.47,-1.41,-1.55,
 -1.49,-1.42,-1.51,-1.47,-1.56,-1.57,-1.45,-1.57,-1.31,-1.51,
 -1.42,-1.45,-1.38,-1.40,-1.31,-1.36,-1.30,-1.28,-1.24,-1.19,
 -1.22,-1.16,-1.15,-1.10,-1.04,-1.05,-1.03,-1.07,-1.05,-1.07,
 -1.04,-1.08,-1.06,-1.09,-1.05,-1.08,-1.03,-1.06,-1.02,-1.01,
 -1.04,-0.99,-1.02,-0.98,-0.99,-0.96,-0.98,-0.93,-0.95,-0.89,
 -0.91,-0.86,-0.88,-0.82,-0.80,-0.77,-0.78,-0.79]
SWJTU_2011 = [-0.39,-0.55,-0.43,-0.58,-0.78,-0.92,-0.97,-1.08,-1.20,-1.23,
 -1.29,-1.31,-1.50,-1.25,-1.55,-1.51,-1.58,-1.70,-1.72,-1.74,
 -1.78,-1.75,-1.80,-1.76,-1.82,-1.88,-1.80,-1.92,-1.75,-1.85,
 -1.85,-1.80,-1.84,-1.82,-1.86,-1.80,-1.84,-1.83,-1.74,-1.70,
 -1.64,-1.62,-1.58,-1.60,-1.55,-1.58,-1.52,-1.55,-1.50,-1.52,
 -1.46,-1.36,-1.50,-1.32,-1.45,-1.40,-1.38,-1.36,-1.32,-1.29,
 -1.30,-1.26,-1.28,-1.24,-1.25,-1.21,-1.23,-1.19,-1.20,-1.16,
 -1.17,-1.13,-1.14,-1.10,-1.11,-1.07,-1.08,-1.04,-1.05,-1.01,
 -1.02,-0.98,-0.99,-0.95,-0.96,-0.92,-0.93,-0.89,-0.90,-0.86,
 -0.87,-0.83,-0.84,-0.80]
SWPU_2011 = [-0.34,-0.52,-0.42,-0.58,-0.78,-0.92,-0.97,-1.08,-1.20,-1.23,
 -1.29,-1.31,-1.52,-1.46,-1.57,-1.60,-1.60,-1.73,-1.75,-1.77,
 -1.82,-1.79,-1.84,-1.80,-1.86,-1.91,-1.93,-1.95,-1.95,-1.79,
 -1.89,-1.94,-1.89,-1.93,-1.90,-1.94,-1.90,-1.92,-1.79,-1.71,
 -1.67,-1.63,-1.60,-1.57,-1.54,-1.59,-1.57,-1.60,-1.57,-1.59,
 -1.55,-1.53,-1.50,-1.51,-1.47,-1.45,-1.42,-1.39,-1.33,-1.29,
 -1.29,-1.25,-1.26,-1.22,-1.23,-1.19,-1.20,-1.16,-1.17,-1.13,
 -1.13,-1.09,-1.10,-1.06,-1.06,-1.02,-1.02,-0.98,-0.98,-0.94,
 -0.94,-0.90,-0.90,-0.86,-0.86,-0.82,-0.82,-0.79,-0.78,-0.75,
 -0.75,-0.72,-0.74,-0.75]
TONGJI_2011 = [-0.31,-0.51,-0.41,-0.57,-0.77,-0.92,-0.97,-1.08,-1.20,-1.23,
 -1.29,-1.31,-1.52,-1.46,-1.57,-1.60,-1.60,-1.73,-1.75,-1.77,
 -1.82,-1.79,-1.84,-1.80,-1.86,-1.91,-1.93,-1.97,-2.00,-1.90,
 -1.97,-2.01,-1.96,-2.00,-1.97,-2.01,-1.97,-1.99,-1.86,-1.80,
 -1.79,-1.75,-1.76,-1.72,-1.73,-1.76,-1.72,-1.76,-1.72,-1.74,
 -1.70,-1.72,-1.68,-1.70,-1.65,-1.66,-1.62,-1.61,-1.56,-1.53,
 -1.49,-1.54,-1.46,-1.51,-1.43,-1.48,-1.40,-1.45,-1.37,-1.42,
 -1.33,-1.38,-1.30,-1.35,-1.27,-1.32,-1.24,-1.29,-1.21,-1.26,
 -1.18,-1.23,-1.15,-1.20,-1.13,-1.17,-1.11,-1.15,-1.09,-1.13,
 -1.07,-1.11,-1.08,-1.11]
WHU_2011 = [-0.34,-0.53,-0.42,-0.58,-0.78,-0.92,-0.97,-1.08,-1.20,-1.23,
 -1.29,-1.31,-1.52,-1.45,-1.56,-1.58,-1.58,-1.70,-1.72,-1.73,
 -1.77,-1.74,-1.78,-1.75,-1.76,-1.66,-1.74,-1.66,-1.66,-1.66,
 -1.80,-1.84,-1.79,-1.83,-1.80,-1.84,-1.80,-1.82,-1.70,-1.64,
 -1.60,-1.56,-1.54,-1.51,-1.48,-1.53,-1.50,-1.53,-1.50,-1.52,
 -1.47,-1.45,-1.42,-1.42,-1.38,-1.35,-1.30,-1.24,-1.18,-1.16,
 -1.15,-1.11,-1.12,-1.08,-1.08,-1.04,-1.05,-1.01,-1.01,-0.98,
 -0.99,-0.95,-0.96,-0.93,-0.94,-0.91,-0.92,-0.89,-0.90,-0.87,
 -0.88,-0.85,-0.87,-0.84,-0.85,-0.82,-0.83,-0.82]
XISM_2011 = [-0.57,-0.43,-0.53,-0.70,-0.81,-1.03,-1.07,-1.12,-1.25,-1.27,
 -1.29,-1.30,-1.36,-1.40,-1.33,-1.53,-1.38,-1.55,-1.50,-1.62,
 -1.62,-1.58,-1.55,-1.60,-1.62,-1.69,-1.50,-1.60,-1.52,-1.45,
 -1.52,-1.50,-1.48,-1.52,-1.49,-1.47,-1.50,-1.55,-1.58,-1.52,
 -1.50,-1.47,-1.44,-1.46,-1.40,-1.43,-1.40,-1.42,-1.38,-1.40,
 -1.37,-1.40,-1.36,-1.38,-1.37,-1.33,-1.30,-1.28]

SERIES = [
    [AIUB_2003, CNES_2003, COSTG_2003, CSR_2003, GFZ_2003, HUST_2003, IGG_2003, ITSG_2003,
     JPL_2003, LUH_2003, SWJTU_2003, SWPU_2003, TONGJI_2003, WHU_2003, XISM_2003],
    [AIUB_2008, CNES_2008, COSTG_2008, CSR_2008, GFZ_2008, HUST_2008, IGG_2008, ITSG_2008,
     JPL_2008, LUH_2008, SWJTU_2008, SWPU_2008, TONGJI_2008, WHU_2008, XISM_2008],
    [AIUB_2011, CNES_2011, COSTG_2011, CSR_2011, GFZ_2011, HUST_2011, IGG_2011, ITSG_2011,
     JPL_2011, LUH_2011, SWJTU_2011, SWPU_2011, TONGJI_2011, WHU_2011, XISM_2011],
]

# y ranges (log10) per panel: [left, right] for each epoch
Y_RANGES = [[[-2.914, -0.614], [-2.023, -0.662]],
            [[-2.91, 0.0], [-2.31, -0.537]],
            [[-2.91, 0.0], [-2.10, 0.0]]]
TICK_TEXT = {0.01: "10<sup>-2</sup>", 1.0: "10<sup>0</sup>"}

INK = "#262626"
FONT = "Liberation Sans, Arial, sans-serif"

def px_x(p):
    return p / W

def px_y(p):
    return 1 - p / H

X_LEFT = [px_x(93), px_x(580)]
X_RIGHT = [px_x(628), px_x(1117)]
Y_ROWS = [[px_y(286), px_y(125)], [px_y(470), px_y(310)], [px_y(653), px_y(493)]]

# legend grid (3 rows x 5 columns, filled column by column), pixel positions
LEGEND_COL_X = [172, 336, 444, 602, 730]
LEGEND_ROW_TOP = [-5, 28, 60]

fig = go.Figure()

for e in range(3):
    for side in range(2):
        n = e * 2 + side + 1
        xa = "x" if n == 1 else f"x{n}"
        ya = "y" if n == 1 else f"y{n}"
        for i, name in enumerate(CENTERS):
            vals = SERIES[e][i]
            deg = list(range(1, len(vals) + 1))
            rms = [10 ** v for v in vals]
            show = (e == 0 and side == 0)
            legend_key = "legend" if i == 0 else f"legend{i + 1}"
            fig.add_trace(go.Scatter(
                x=deg, y=rms, mode="lines", name=name,
                line=dict(color=COLORS[i], width=1.8),
                xaxis=xa, yaxis=ya, showlegend=show,
                legend=legend_key, hoverinfo="skip"))

def minor_vals(lo, hi):
    out = []
    for k in range(-4, 1):
        for m in range(1, 10):
            if m == 1 and k != -1:
                continue
            v = m * 10.0 ** k
            if 10 ** lo <= v <= 10 ** hi:
                out.append(v)
    return out

axis_common = dict(showline=True, linewidth=2.5, linecolor=INK, mirror="ticks",
                   ticks="outside", ticklen=6, tickwidth=2, tickcolor=INK,
                   showgrid=False, zeroline=False, automargin=False,
                   ticklabeloverflow="allow",
                   tickfont=dict(size=20, color=INK, family=FONT))

layout = {}
for e in range(3):
    for side in range(2):
        n = e * 2 + side + 1
        xkey = "xaxis" if n == 1 else f"xaxis{n}"
        ykey = "yaxis" if n == 1 else f"yaxis{n}"
        xa_name = "x" if n == 1 else f"x{n}"
        ya_name = "y" if n == 1 else f"y{n}"
        if side == 0:
            xdict = dict(domain=X_LEFT, range=[0, 96], tickmode="array",
                         tickvals=[0, 20, 40, 60, 80])
        else:
            xdict = dict(domain=X_RIGHT, range=[0, 30], tickmode="array",
                         tickvals=[0, 5, 10, 15, 20, 25, 30])
        xdict.update(axis_common)
        xdict.update(anchor=ya_name, showticklabels=(e == 2))
        layout[xkey] = xdict

        lo, hi = Y_RANGES[e][side]
        ydict = dict(type="log", domain=Y_ROWS[e], range=[lo, hi], anchor=xa_name)
        ydict.update(axis_common)
        tv = [v for v in (0.01, 1.0) if 10 ** lo <= v <= 10 ** hi + 1e-9]
        ydict.update(tickmode="array", tickvals=tv, ticktext=[TICK_TEXT[v] for v in tv])
        if e == 0 and side == 0:
            # this panel only carries an extra full-length tick at 10^-1
            ydict.update(minor=dict(tickmode="array", tickvals=[0.1], ticks="outside",
                                    ticklen=6, tickwidth=2, tickcolor=INK, showgrid=False))
        else:
            ydict.update(minor=dict(tickmode="array", tickvals=minor_vals(lo, hi),
                                    ticks="outside", ticklen=3.5, tickwidth=1.5,
                                    tickcolor=INK, showgrid=False))
        layout[ykey] = ydict

fig.update_layout(**layout)

annotations = [
    dict(text="July 2003", x=px_x(123), y=px_y(138)),
    dict(text="December 2008", x=px_x(123), y=px_y(325)),
    dict(text="April 2011", x=px_x(128), y=px_y(506)),
]
for a in annotations:
    a.update(xref="paper", yref="paper", xanchor="left", yanchor="middle", showarrow=False,
             font=dict(size=17, color="#000000", family=FONT))
annotations.append(dict(text="Spherical harmonic degree", x=px_x(336), y=px_y(705),
                        xref="paper", yref="paper", xanchor="center", yanchor="middle",
                        showarrow=False, font=dict(size=24, color=INK, family=FONT)))
annotations.append(dict(text="Geoid degree RMS [mm]", x=px_x(22), y=px_y(390),
                        xref="paper", yref="paper", xanchor="center", yanchor="middle",
                        textangle=-90, showarrow=False,
                        font=dict(size=25, color=INK, family=FONT)))

legends = {}
for i in range(len(CENTERS)):
    key = "legend" if i == 0 else f"legend{i + 1}"
    col, row = divmod(i, 3)
    legends[key] = dict(orientation="v", xanchor="left", yanchor="top",
                        x=px_x(LEGEND_COL_X[col]), y=px_y(LEGEND_ROW_TOP[row]),
                        bgcolor="rgba(0,0,0,0)", borderwidth=0, itemwidth=30,
                        font=dict(size=24, color="#000000", family=FONT),
                        itemclick=False, itemdoubleclick=False)

fig.update_layout(
    width=W, height=H, autosize=False,
    margin=dict(l=0, r=0, t=0, b=0, pad=0, autoexpand=False),
    paper_bgcolor="white", plot_bgcolor="white",
    font=dict(family=FONT, color=INK),
    annotations=annotations,
    shapes=[dict(type="rect", xref="paper", yref="paper",
                 x0=px_x(176), x1=px_x(918), y0=px_y(100), y1=px_y(3),
                 line=dict(color=INK, width=1.5), fillcolor="rgba(0,0,0,0)")],
    **legends,
)

fig.write_html("out.html", config={"displayModeBar": False},
               post_script="document.body.style.margin='0';")
